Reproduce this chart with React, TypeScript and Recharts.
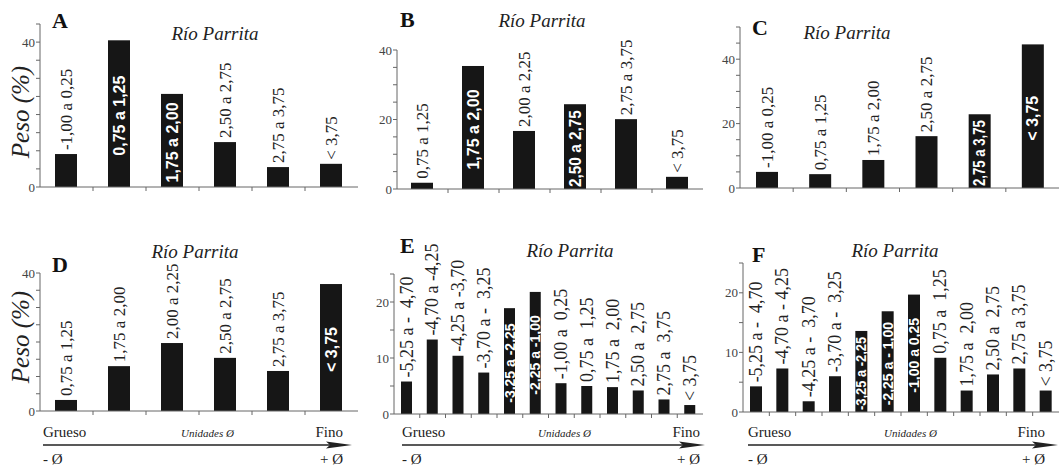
import { BarChart, Bar, XAxis, YAxis } from 'recharts';

const SERIF = "'Liberation Serif', 'Times New Roman', serif";
const SANS = "'Liberation Sans', Arial, sans-serif";
const AXIS = '#666';

// Panel A
const A_LABELS = ['-1,00 a 0,25', '0,75 a 1,25', '1,75 a 2,00', '2,50 a 2,75', '2,75 a 3,75', '< 3,75'];
const A_VALUES = [9.1, 40.5, 25.7, 12.4, 5.5, 6.4];
const A_INSIDE = [1, 2];
const A_TICKS = [0, 40];

// Panel B
const B_LABELS = ['0,75 a 1,25', '1,75 a 2,00', '2,00 a 2,25', '2,50 a 2,75', '2,75 a 3,75', '< 3,75'];
const B_VALUES = [1.8, 35.4, 16.7, 24.4, 20.1, 3.5];
const B_INSIDE = [1, 3];
const B_TICKS = [0, 20, 40];

// Panel C
const C_LABELS = ['-1,00 a 0,25', '0,75 a 1,25', '1,75 a 2,00', '2,50 a 2,75', '2,75 a 3,75', '< 3,75'];
const C_VALUES = [5.0, 4.3, 8.7, 16.1, 22.9, 44.6];
const C_INSIDE = [4, 5];
const C_TICKS = [0, 20, 40];

// Panel D
const D_LABELS = ['0,75 a 1,25', '1,75 a 2,00', '2,00 a 2,25', '2,50 a 2,75', '2,75 a 3,75', '< 3,75'];
const D_VALUES = [3.2, 13.0, 19.7, 15.4, 11.6, 36.8];
const D_INSIDE = [5];
const D_TICKS = [0, 40];

// Panel E
const E_LABELS = [
  '-5,25 a -  4,70', '-4,70 a -4,25', '-4,25 a -3,70', '-3,70 a -  3,25',
  '-3,25 a -2,25', '-2,25 a -1,00', '-1,00 a  0,25', '0,75 a  1,25',
  '1,75 a  2,00', '2,50 a  2,75', '2,75 a  3,75', '< 3,75',
];
const E_VALUES = [5.8, 13.3, 10.4, 7.4, 18.9, 21.8, 5.5, 5.0, 4.8, 4.2, 2.6, 1.6];
const E_INSIDE = [4, 5];
const E_TICKS = [0, 10, 20];

// Panel F
const F_LABELS = [
  '-5,25 a -  4,70', '-4,70 a - 4,25', '-4,25 a -  3,70', '-3,70 a -  3,25',
  '-3,25 a -2,25', '-2,25 a - 1,00', '-1,00 a 0,25', '0,75 a  1,25',
  '1,75 a  2,00', '2,50 a  2,75', '2,75 a 3,75', '< 3,75',
];
const F_VALUES = [4.3, 7.3, 1.8, 6.0, 13.6, 16.9, 19.7, 9.1, 3.6, 6.3, 7.3, 3.6];
const F_INSIDE = [4, 5, 6];
const F_TICKS = [0, 10, 20];

type Rect = { left: number; top: number; width: number; height: number };
type Plot = { left: number; right: number; top: number; bottom: number };

type PanelCfg = {
  labels: string[];
  values: number[];
  inside: number[];
  tickLabels: number[];
  yMax: number;
  box: Rect;
  plot: Plot;
  barSize: number;
  labelSize: number;
  insideSize: number;
};

const BOLD_W: Record<string, number> = {
  '0': 0.556, '1': 0.556, '2': 0.556, '3': 0.556, '4': 0.556, '5': 0.556,
  '6': 0.556, '7': 0.556, '8': 0.556, '9': 0.556,
  ',': 0.278, ' ': 0.278, a: 0.556, '-': 0.333, '<': 0.584,
};

function boldWidth(s: string, fs: number) {
  let w = 0;
  for (const ch of s) w += BOLD_W[ch] ?? 0.55;
  return w * fs;
}

function Panel({ cfg }: { cfg: PanelCfg }) {
  const { box, plot } = cfg;
  const rows = cfg.labels.map((label, i) => ({ pos: i + 0.5, value: cfg.values[i], label }));
  const n = rows.length;
  const yAxisW = plot.left - box.left;
  const xAxisH = box.top + box.height - plot.bottom;
  const margin = {
    left: 0,
    top: plot.top - box.top,
    right: box.left + box.width - plot.right,
    bottom: 0,
  };
  const yTicks: number[] = [];
  for (let v = 0; v <= cfg.yMax; v += 5) yTicks.push(v);
  const xTicks: number[] = [];
  for (let i = 1; i < n; i++) xTicks.push(i);

  const renderBar = (p: any) => {
    const { x, y, width, height, index } = p;
    const label: string = p.payload?.label ?? rows[index].label;
    const cx = x + width / 2;
    let text;
    if (cfg.inside.includes(index)) {
      const avail = height - 8;
      const natural = boldWidth(label, cfg.insideSize);
      const fit = natural > avail ? { textLength: avail, lengthAdjust: 'spacingAndGlyphs' } : {};
      text = (
        <text
          transform={`translate(${cx},${y + height / 2 + 2}) rotate(-90)`}
          textAnchor="middle"
          dominantBaseline="central"
          fill="#fff"
          fontWeight="bold"
          fontFamily={SANS}
          fontSize={cfg.insideSize}
          xmlSpace="preserve"
          style={{ whiteSpace: 'pre' }}
          {...fit}
        >
          {label}
        </text>
      );
    } else {
      text = (
        <text
          transform={`translate(${cx},${y - 4}) rotate(-90)`}
          textAnchor="start"
          dominantBaseline="central"
          fill="#222"
          fontFamily={SERIF}
          fontSize={cfg.labelSize}
          xmlSpace="preserve"
          style={{ whiteSpace: 'pre' }}
        >
          {label}
        </text>
      );
    }
    return (
      <g>
        <rect x={x} y={y} width={width} height={height} fill="#161616" />
        {text}
      </g>
    );
  };

  return (
    <div style={{ position: 'absolute', left: box.left, top: box.top }}>
      <BarChart width={box.width} height={box.height} data={rows} margin={margin}>
        <XAxis
          type="number"
          dataKey="pos"
          domain={[0, n]}
          ticks={xTicks}
          tickFormatter={() => ''}
          height={xAxisH}
          tickSize={4}
          axisLine={{ stroke: AXIS }}
          tickLine={{ stroke: AXIS }}
        />
        <YAxis
          width={yAxisW}
          domain={[0, cfg.yMax]}
          ticks={yTicks}
          tickSize={4}
          tickMargin={1}
          tickFormatter={(v: number) => (cfg.tickLabels.includes(v) ? String(v) : '')}
          tick={{ fontSize: 13, fill: '#444', fontFamily: SERIF }}
          axisLine={{ stroke: AXIS }}
          tickLine={{ stroke: AXIS }}
        />
        <Bar dataKey="value" barSize={cfg.barSize} isAnimationActive={false} shape={renderBar} />
      </BarChart>
    </div>
  );
}

const PANELS: PanelCfg[] = [
  {
    labels: A_LABELS, values: A_VALUES, inside: A_INSIDE, tickLabels: A_TICKS, yMax: 45,
    box: { left: 0, top: 0, width: 362, height: 205 },
    plot: { left: 40, right: 358, top: 24, bottom: 187 },
    barSize: 22, labelSize: 17, insideSize: 16,
  },
  {
    labels: B_LABELS, values: B_VALUES, inside: B_INSIDE, tickLabels: B_TICKS, yMax: 40,
    box: { left: 362, top: 0, width: 346, height: 205 },
    plot: { left: 397, right: 703, top: 50, bottom: 189 },
    barSize: 22, labelSize: 17, insideSize: 16,
  },
  {
    labels: C_LABELS, values: C_VALUES, inside: C_INSIDE, tickLabels: C_TICKS, yMax: 50,
    box: { left: 710, top: 0, width: 350, height: 205 },
    plot: { left: 740, right: 1059, top: 27, bottom: 188 },
    barSize: 22, labelSize: 17, insideSize: 16,
  },
  {
    labels: D_LABELS, values: D_VALUES, inside: D_INSIDE, tickLabels: D_TICKS, yMax: 40,
    box: { left: 0, top: 225, width: 362, height: 200 },
    plot: { left: 40, right: 358, top: 273, bottom: 411 },
    barSize: 22, labelSize: 17, insideSize: 16,
  },
  {
    labels: E_LABELS, values: E_VALUES, inside: E_INSIDE, tickLabels: E_TICKS, yMax: 25,
    box: { left: 362, top: 225, width: 346, height: 200 },
    plot: { left: 394, right: 703, top: 274, bottom: 414 },
    barSize: 11, labelSize: 18, insideSize: 14,
  },
  {
    labels: F_LABELS, values: F_VALUES, inside: F_INSIDE, tickLabels: F_TICKS, yMax: 25,
    box: { left: 710, top: 225, width: 350, height: 200 },
    plot: { left: 743, right: 1059, top: 263, bottom: 412 },
    barSize: 12, labelSize: 18, insideSize: 14,
  },
];

const TITLES = [
  { letter: 'A', lx: 52, ly: 28, tx: 215, ty: 40 },
  { letter: 'B', lx: 400, ly: 27, tx: 542, ty: 27 },
  { letter: 'C', lx: 752, ly: 35, tx: 847, ty: 39 },
  { letter: 'D', lx: 52, ly: 272, tx: 195, ty: 258 },
  { letter: 'E', lx: 400, ly: 253, tx: 570, ty: 257 },
  { letter: 'F', lx: 752, ly: 262, tx: 895, ty: 257 },
];

const SCALES = [
  { x0: 43, x1: 352, unidades: 181, fino: 343 },
  { x0: 402, x1: 705, unidades: 538, fino: 700 },
  { x0: 748, x1: 1058, unidades: 884, fino: 1045 },
];

function Overlay() {
  return (
    <svg
      width={1060}
      height={467}
      style={{ position: 'absolute', left: 0, top: 0, pointerEvents: 'none' }}
    >
      {TITLES.map((t) => (
        <g key={t.letter}>
          <text x={t.lx} y={t.ly} fontFamily={SERIF} fontWeight="bold" fontSize={22} fill="#111">
            {t.letter}
          </text>
          <text x={t.tx} y={t.ty} textAnchor="middle" fontFamily={SERIF} fontStyle="italic" fontSize={19} fill="#222">
            Río Parrita
          </text>
        </g>
      ))}
      {[112, 337].map((cy) => (
        <text
          key={cy}
          transform={`translate(20,${cy}) rotate(-90)`}
          textAnchor="middle"
          dominantBaseline="central"
          fontFamily={SERIF}
          fontStyle="italic"
          fontSize={25}
          fill="#222"
        >
          Peso (%)
        </text>
      ))}
      {SCALES.map((s) => (
        <g key={s.x0} fontFamily={SERIF} fill="#222">
          <text x={s.x0} y={437} fontSize={15}>Grueso</text>
          <text x={s.unidades} y={437} fontSize={11} fontStyle="italic">Unidades Ø</text>
          <text x={s.fino} y={437} fontSize={15} textAnchor="end">Fino</text>
          <line x1={s.x0} y1={445} x2={s.x1 - 14} y2={445} stroke="#222" strokeWidth={1.3} />
          <polygon points={`${s.x1 - 26},441.5 ${s.x1},445 ${s.x1 - 26},448.5 ${s.x1 - 22},445`} fill="#222" />
          <text x={s.x0} y={464} fontSize={15}>- Ø</text>
          <text x={s.fino} y={464} fontSize={15} textAnchor="end">+ Ø</text>
        </g>
      ))}
    </svg>
  );
}

export default function App() {
  return (
    <div style={{ position: 'absolute', left: 0, top: 0, width: 1060, height: 467, background: '#fff' }}>
      {PANELS.map((cfg, i) => (
        <Panel key={i} cfg={cfg} />
      ))}
      <Overlay />
    </div>
  );
}
